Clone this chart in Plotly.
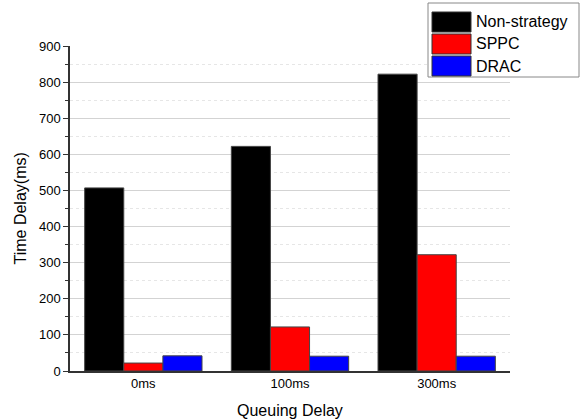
import plotly.graph_objects as go

categories = ["0ms", "100ms", "300ms"]
series_names = ["Non-strategy", "SPPC", "DRAC"]
non_strategy = [507, 622, 822]
sppc = [22, 122, 322]
drac = [42, 41, 41]
colors = ["#000000", "#ff0000", "#0000ff"]

L, R, T, B = 70, 510, 46, 371
PW, PH = R - L, B - T

def px(x):
    return (x - L) / PW

def py(y):
    return (B - y) / PH

fig = go.Figure()
for name, vals, c in zip(series_names, [non_strategy, sppc, drac], colors):
    fig.add_trace(go.Bar(x=categories, y=vals, name=name, marker_color=c,
                         marker_line=dict(color="#444444", width=1), showlegend=False))

fig.update_layout(
    width=580, height=420,
    margin=dict(l=L, r=580 - R, t=T, b=420 - B),
    paper_bgcolor="white", plot_bgcolor="white",
    barmode="group", bargap=0.2, bargroupgap=0,
    font=dict(family="Liberation Sans, Arial", color="#000000"),
)
fig.update_yaxes(
    automargin=False,
    range=[0, 900], tickvals=list(range(0, 1000, 100)),
    showline=True, linecolor="#333333", linewidth=1.5,
    ticks="outside", ticklen=5, tickcolor="#333333", tickfont=dict(size=13),
    showgrid=True, gridcolor="#d3d3d3", gridwidth=1, zeroline=False,
    minor=dict(dtick=50, ticks="outside", ticklen=3, tickcolor="#333333",
               showgrid=True, gridcolor="#e6e6e6", griddash="dot"),
)
fig.update_xaxes(
    automargin=False,
    showline=True, linecolor="#333333", linewidth=1.5, ticks="",
    tickfont=dict(size=13),
)

# hide the gridline at the top of the plot (the reference has none there)
fig.add_shape(type="line", xref="paper", yref="paper", x0=px(71.5), x1=1.0,
              y0=1.0, y1=1.0, line=dict(color="white", width=2), layer="above")

# axis titles
fig.add_annotation(xref="paper", yref="paper", x=px(20), y=0.5, text="Time Delay(ms)",
                   textangle=-90, showarrow=False, xanchor="center", yanchor="middle",
                   font=dict(size=16))
fig.add_annotation(xref="paper", yref="paper", x=px(290), y=py(410), text="Queuing Delay",
                   showarrow=False, xanchor="center", yanchor="middle",
                   font=dict(size=16))

# custom legend box
fig.add_shape(type="rect", xref="paper", yref="paper",
              x0=px(428), x1=px(579), y0=py(77), y1=py(3),
              line=dict(color="#888888", width=1), fillcolor="white")
for i, (name, c) in enumerate(zip(series_names, colors)):
    top = 12 + i * 22
    fig.add_shape(type="rect", xref="paper", yref="paper",
                  x0=px(432), x1=px(471), y0=py(top + 20), y1=py(top),
                  line=dict(color="#333333", width=1), fillcolor=c)
    fig.add_annotation(xref="paper", yref="paper", x=px(474),
                       y=py(top + 10), text=name, showarrow=False,
                       xanchor="left", yanchor="middle",
                       font=dict(size=16, color="#000000"))

fig.write_html("out.html", config={"displayModeBar": False},
               post_script="document.body.style.margin='0';")
